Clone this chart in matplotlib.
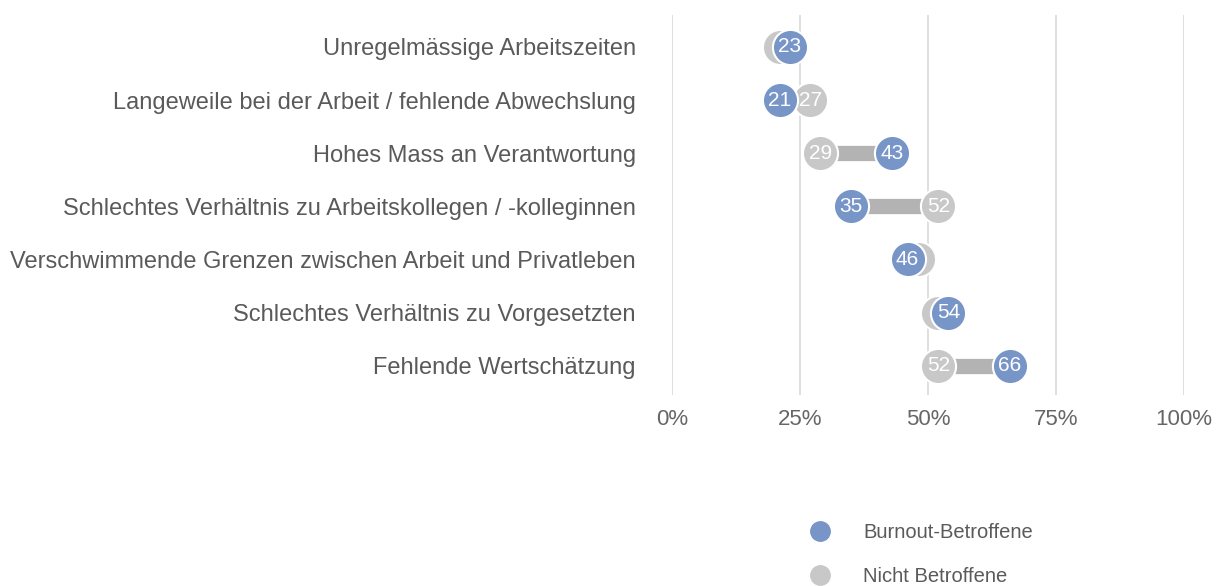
import matplotlib
matplotlib.use("Agg")
import matplotlib.pyplot as plt
from matplotlib.lines import Line2D

categories = [
    "Unregelmässige Arbeitszeiten",
    "Langeweile bei der Arbeit / fehlende Abwechslung",
    "Hohes Mass an Verantwortung",
    "Schlechtes Verhältnis zu Arbeitskollegen / -kolleginnen",
    "Verschwimmende Grenzen zwischen Arbeit und Privatleben",
    "Schlechtes Verhältnis zu Vorgesetzten",
    "Fehlende Wertschätzung",
]
burnout = [23, 21, 43, 35, 46, 54, 66]
nicht = [21, 27, 29, 52, 48, 52, 52]
xticks = [0, 25, 50, 75, 100]
xtick_labels = ["0%", "25%", "50%", "75%", "100%"]
series_names = ["Burnout-Betroffene", "Nicht Betroffene"]

BLUE = "#7895c8"
GRAY = "#c8c8c8"
BAR = "#b3b3b3"
TXT = "#5a5a5a"

plt.rcParams['font.family'] = ['Liberation Sans', 'DejaVu Sans']

fig = plt.figure(figsize=(12.22, 5.86), dpi=100)
ax = fig.add_axes([672/1222, (586-395)/586, 512/1222, 380/586])

ys = list(range(len(categories)))
for y, b, n in zip(ys, burnout, nicht):
    ax.plot([min(b, n), max(b, n)], [y, y], color=BAR, lw=11, solid_capstyle='butt', zorder=2)
ax.scatter(nicht, ys, s=640, color=GRAY, edgecolors='white', linewidths=1.5, zorder=3)
ax.scatter(burnout, ys, s=640, color=BLUE, edgecolors='white', linewidths=1.5, zorder=4)
for y, b, n in zip(ys, burnout, nicht):
    ax.text(b, y, f"{b}", color='white', ha='center', va='center', fontsize=15, zorder=6)
    if abs(b - n) >= 5:
        ax.text(n, y, f"{n}", color='white', ha='center', va='center', fontsize=15, zorder=5)

ax.set_xlim(0, 100)
ax.set_ylim(6.55, -0.6)
ax.set_xticks(xticks)
ax.set_xticklabels(xtick_labels)
ax.set_yticks(ys)
ax.set_yticklabels(categories)
ax.grid(axis='x', color='#d9d9d9', lw=1.2, zorder=0)
ax.set_axisbelow(True)
for s in ax.spines.values():
    s.set_visible(False)
ax.tick_params(axis='x', length=0, pad=10, labelsize=16, labelcolor='#666666')
ax.tick_params(axis='y', length=0, pad=26, labelsize=17, labelcolor=TXT)

handles = [
    Line2D([], [], marker='o', ls='', markersize=14, markerfacecolor=BLUE, markeredgecolor=BLUE),
    Line2D([], [], marker='o', ls='', markersize=14, markerfacecolor=GRAY, markeredgecolor=GRAY),
]
fig.legend(handles, series_names, loc='upper left', bbox_to_anchor=(800/1222, 1 - 523/586),
           frameon=False, fontsize=14.5, labelcolor=TXT, handletextpad=1.15, labelspacing=1.25,
           borderaxespad=0, borderpad=0)

fig.savefig("out.png", dpi=100)
